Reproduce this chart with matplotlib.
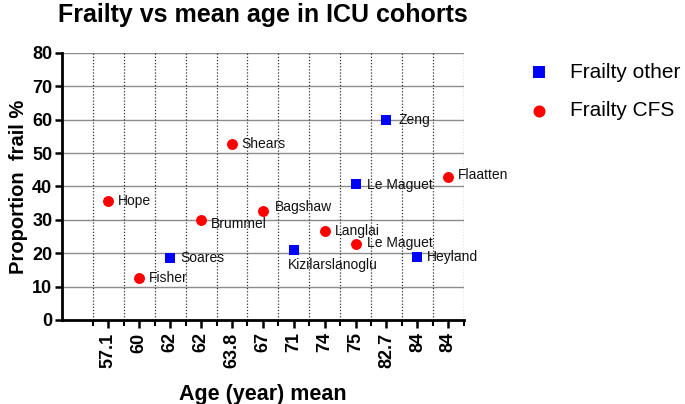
import matplotlib
matplotlib.use("Agg")
import matplotlib.pyplot as plt
from matplotlib.ticker import FixedLocator
import numpy as np

plt.rcParams['font.family'] = ['Liberation Sans', 'DejaVu Sans']

# ---- data ----
age_labels = ["57.1", "60", "62", "62", "63.8", "67", "71", "74", "75", "82.7", "84", "84"]

cfs_names = ["Hope", "Fisher", "Brummel", "Shears", "Bagshaw", "Langlai", "Le Maguet", "Flaatten"]
cfs_pos = [1, 2, 4, 5, 6, 8, 9, 12]
cfs_vals = [35.6, 12.7, 29.9, 52.6, 32.5, 26.8, 22.7, 42.9]

other_names = ["Soares", "Kizilarslanoglu", "Le Maguet", "Zeng", "Heyland"]
other_pos = [3, 7, 9, 10, 11]
other_vals = [18.6, 21.0, 40.8, 59.9, 18.8]

# label offsets (style)
cfs_off = {"Hope": (7, 0), "Fisher": (7, 0), "Brummel": (7, -3), "Shears": (7, 0),
           "Bagshaw": (9, 3), "Langlai": (7, 0), "Le Maguet": (8, 1), "Flaatten": (7, 1)}
other_off = {"Soares": (7, 0), "Kizilarslanoglu": (-4, -11), "Le Maguet": (8, -1),
             "Zeng": (9, 0), "Heyland": (7, 0)}

fig = plt.figure(figsize=(6.85, 4.04), dpi=100)
ax = fig.add_axes([0.0905, 0.208, 0.5865, 0.661])

ax.set_xlim(-0.5, 12.5)
ax.set_ylim(0, 80)

# grids
for y in range(10, 81, 10):
    ax.axhline(y, color='#8c8c8c', lw=1.0, zorder=0)
for x in np.arange(0.5, 12.6, 1.0):
    ax.axvline(x, color='#333333', lw=0.9, ls=(0, (1, 1.5)), zorder=0)

ax.scatter(other_pos, other_vals, marker='s', s=55, color='#0000ff', zorder=3,
           label='Frailty other', linewidths=0)
ax.scatter(cfs_pos, cfs_vals, marker='o', s=62, color='#ff0000', zorder=3,
           label='Frailty CFS', linewidths=0)

for n, x, y in zip(cfs_names, cfs_pos, cfs_vals):
    dx, dy = cfs_off[n]
    ax.annotate(n, (x, y), xytext=(dx, dy), textcoords='offset points',
                ha='left', va='center', fontsize=10, color='#111111')
for n, x, y in zip(other_names, other_pos, other_vals):
    dx, dy = other_off[n]
    ax.annotate(n, (x, y), xytext=(dx, dy), textcoords='offset points',
                ha='left', va='center', fontsize=10, color='#111111')

ax.set_xticks(range(1, len(age_labels) + 1))
ax.set_xticklabels(age_labels, rotation=90, fontsize=13, fontweight='bold')
ax.xaxis.set_minor_locator(FixedLocator(np.arange(0.5, 12.6, 1.0)))
ax.set_yticks(range(0, 81, 10))
ax.set_yticklabels([str(v) for v in range(0, 81, 10)], fontsize=13, fontweight='bold')

ax.tick_params(axis='x', which='major', length=6, width=1.8, pad=3)
ax.tick_params(axis='x', which='minor', length=4, width=1.5)
ax.tick_params(axis='y', which='major', length=5, width=1.8, pad=2)

for s in ['top', 'right']:
    ax.spines[s].set_visible(False)
for s in ['left', 'bottom']:
    ax.spines[s].set_linewidth(2.0)

ax.set_xlabel("Age (year) mean", fontsize=15.5, fontweight='bold', labelpad=12)
ax.set_ylabel("Proportion  frail %", fontsize=14.5, fontweight='bold', labelpad=3)

fig.text(0.384, 0.963, "Frailty vs mean age in ICU cohorts", fontsize=18,
         fontweight='bold', ha='center', va='center')

ax.legend(loc='upper left', bbox_to_anchor=(0.772, 0.845), bbox_transform=fig.transFigure,
          frameon=False, fontsize=15, handletextpad=1.0, labelspacing=0.95,
          handlelength=1.0, borderaxespad=0, borderpad=0, markerscale=1.1)

fig.savefig("out.png", dpi=100)
